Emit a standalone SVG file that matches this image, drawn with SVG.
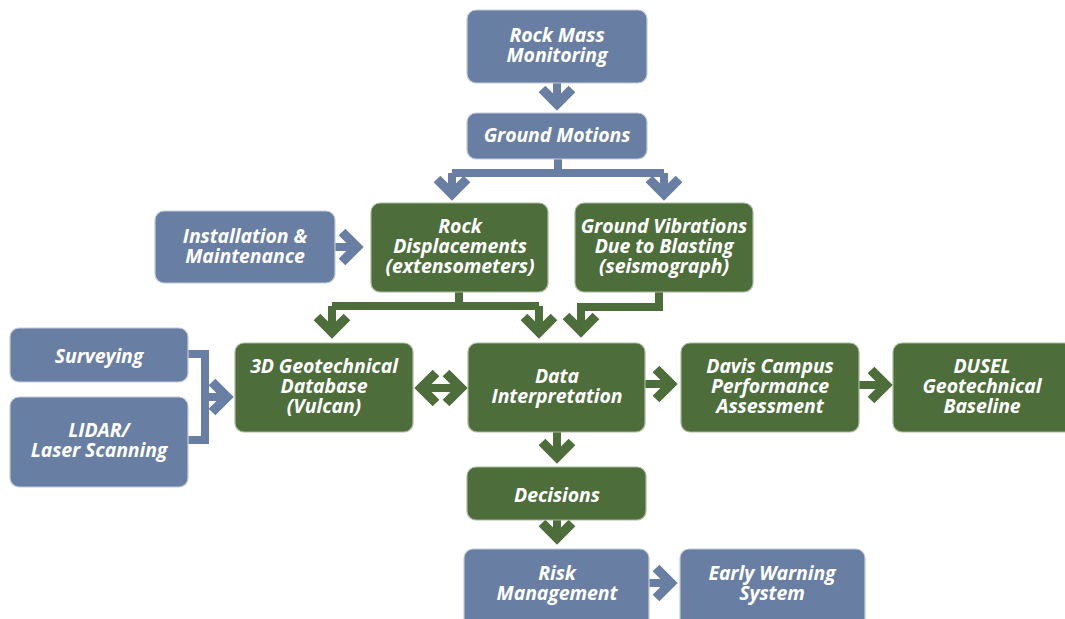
<svg xmlns="http://www.w3.org/2000/svg" width="1065" height="619" viewBox="0 0 1065 619">
<style>
.b{fill:#687ea3;stroke:#c3ccdb;stroke-width:1.2}
.g{fill:#4d6d3b;stroke:#a9b99c;stroke-width:1.2}
text{font-family:"Open Sans","Liberation Sans",sans-serif;font-weight:bold;font-style:italic;font-size:19.5px;fill:#ffffff;text-anchor:middle;letter-spacing:-0.1px}
.cb{fill:none;stroke:#687ea3}
.cg{fill:none;stroke:#4d6d3b}
.s{stroke-width:8}
.h{stroke-width:9.5;stroke-linejoin:miter;stroke-miterlimit:4}
</style>
<rect width="1065" height="619" fill="#ffffff"/>
<g id="connectors">
<g class="cb">
<path class="s" d="M557,83V100"/>
<polyline class="h" points="542,89 557,104 572,89"/>
<path class="s" d="M558,159V173M452,173H664M452,173V190M664,173V190"/>
<polyline class="h" points="437,179 452,194 467,179"/>
<polyline class="h" points="649,179 664,194 679,179"/>
<path class="s" d="M335,247H353"/>
<polyline class="h" points="342,232 357,247 342,262"/>
<path class="s" d="M188,354H205V440H188M205,397H223"/>
<polyline class="h" points="212,382 227,397 212,412"/>
<path class="s" d="M649,583H667"/>
<polyline class="h" points="656,568 671,583 656,598"/>
</g>
<g class="cg">
<path class="s" d="M459,292V306M332,306H539M332,306V328M539,306V328"/>
<polyline class="h" points="317,317 332,332 347,317"/>
<polyline class="h" points="524,317 539,332 554,317"/>
<path class="s" d="M659,292V307H581V327"/>
<polyline class="h" points="566,316 581,331 596,316"/>
<path class="s" d="M425,388H457"/>
<polyline class="h" points="436,373 421,388 436,403"/>
<polyline class="h" points="446,373 461,388 446,403"/>
<path class="s" d="M645,384H667"/>
<polyline class="h" points="656,369 671,384 656,399"/>
<path class="s" d="M859,385H882"/>
<polyline class="h" points="871,370 886,385 871,400"/>
<path class="s" d="M557,432V453"/>
<polyline class="h" points="542,442 557,457 572,442"/>
<path class="s" d="M557,520V534"/>
<polyline class="h" points="542,523 557,538 572,523"/>
</g>
</g>
<g id="rock-mass-monitoring"><rect class="b" x="467" y="10" width="180" height="73" rx="9"/><text x="557" y="42">Rock Mass</text><text x="557" y="62">Monitoring</text></g>
<g id="ground-motions"><rect class="b" x="467" y="113" width="180" height="46" rx="9"/><text x="557" y="142">Ground Motions</text></g>
<g id="installation-maintenance"><rect class="b" x="155" y="211" width="180" height="72" rx="9"/><text x="245" y="243">Installation &amp;</text><text x="245" y="263">Maintenance</text></g>
<g id="rock-displacements"><rect class="g" x="371" y="203" width="177" height="89" rx="9"/><text x="460" y="233">Rock</text><text x="460" y="253">Displacements</text><text x="460" y="273">(extensometers)</text></g>
<g id="ground-vibrations"><rect class="g" x="575" y="203" width="178" height="89" rx="9"/><text x="664" y="233">Ground Vibrations</text><text x="664" y="253">Due to Blasting</text><text x="664" y="273">(seismograph)</text></g>
<g id="surveying"><rect class="b" x="10" y="328" width="178" height="54" rx="9"/><text x="99" y="363">Surveying</text></g>
<g id="lidar"><rect class="b" x="10" y="397" width="178" height="90" rx="9"/><text x="99" y="437">LIDAR/</text><text x="99" y="457">Laser Scanning</text></g>
<g id="geotechnical-database"><rect class="g" x="235" y="343" width="178" height="89" rx="9"/><text x="324" y="373">3D Geotechnical</text><text x="324" y="393">Database</text><text x="324" y="413">(Vulcan)</text></g>
<g id="data-interpretation"><rect class="g" x="468" y="343" width="177" height="89" rx="9"/><text x="557" y="383">Data</text><text x="557" y="403">Interpretation</text></g>
<g id="davis-campus"><rect class="g" x="681" y="343" width="178" height="89" rx="9"/><text x="770" y="373">Davis Campus</text><text x="770" y="393">Performance</text><text x="770" y="413">Assessment</text></g>
<g id="dusel-baseline"><rect class="g" x="893" y="343" width="180" height="89" rx="9"/><text x="982" y="373">DUSEL</text><text x="982" y="393">Geotechnical</text><text x="982" y="413">Baseline</text></g>
<g id="decisions"><rect class="g" x="467" y="467" width="179" height="53" rx="9"/><text x="557" y="502">Decisions</text></g>
<g id="risk-management"><rect class="b" x="464" y="549" width="185" height="80" rx="9"/><text x="557" y="580">Risk</text><text x="557" y="600">Management</text></g>
<g id="early-warning"><rect class="b" x="680" y="549" width="185" height="80" rx="9"/><text x="772" y="580">Early Warning</text><text x="772" y="600">System</text></g>
</svg>
